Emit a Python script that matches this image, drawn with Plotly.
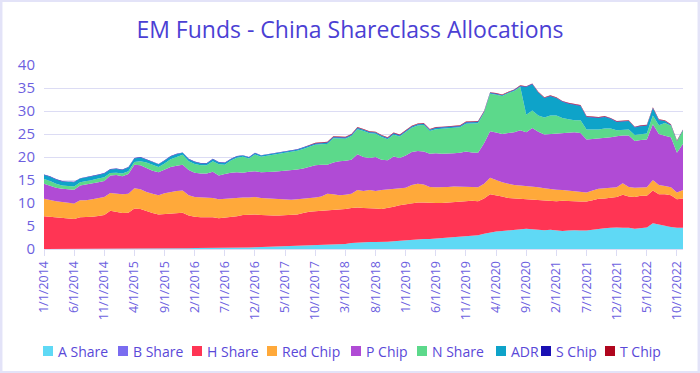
import plotly.graph_objects as go

# Monthly categories 1/1/2014 .. 11/1/2022
months = [f"{m}/1/{y}" for y in range(2014, 2023) for m in range(1, 13)][:107]

tick_labels = ["1/1/2014", "6/1/2014", "11/1/2014", "4/1/2015", "9/1/2015", "2/1/2016",
               "7/1/2016", "12/1/2016", "5/1/2017", "10/1/2017", "3/1/2018", "8/1/2018",
               "1/1/2019", "6/1/2019", "11/1/2019", "4/1/2020", "9/1/2020", "2/1/2021",
               "7/1/2021", "12/1/2021", "5/1/2022", "10/1/2022"]

a_share = [0, 0, 0, 0, 0, 0, 0, 0, 0, 0,
           0, 0, 0, 0, 0, 0, 0, 0, 0, 0,
           0.1, 0.1, 0.1, 0.15, 0.15, 0.2, 0.2, 0.2, 0.25, 0.25,
           0.3, 0.3, 0.3, 0.35, 0.35, 0.4, 0.45, 0.5, 0.5, 0.55,
           0.6, 0.6, 0.65, 0.7, 0.7, 0.75, 0.8, 0.85, 0.9, 1.0,
           1.1, 1.3, 1.4, 1.4, 1.5, 1.5, 1.5, 1.6, 1.7, 1.8,
           2.0, 2.1, 2.1, 2.2, 2.2, 2.3, 2.4, 2.4, 2.5, 2.6,
           2.7, 2.9, 3.0, 3.3, 3.6, 3.8, 3.9, 4.0, 4.2, 4.3,
           4.4, 4.3, 4.2, 4.1, 4.2, 4.0, 3.9, 4.0, 4.1, 4.0,
           4.0, 4.2, 4.4, 4.5, 4.6, 4.7, 4.6, 4.6, 4.4, 4.5,
           4.7, 5.6, 5.3, 5.0, 4.8, 4.6, 4.6]

b_share = [0] * 107

h_share = [7.1, 7.0, 6.9, 6.8, 6.7, 6.5, 6.9, 6.9, 7.0, 7.2,
           7.4, 8.3, 8.0, 7.8, 7.9, 8.8, 8.7, 8.2, 7.8, 7.5,
           7.5, 7.7, 7.8, 7.75, 7.15, 6.8, 6.7, 6.7, 6.65, 6.45,
           6.5, 6.6, 6.8, 7.05, 7.15, 7.1, 6.95, 6.8, 6.8, 6.75,
           6.8, 6.9, 6.85, 7.1, 7.4, 7.45, 7.5, 7.55, 7.6, 7.5,
           7.6, 7.6, 7.6, 7.5, 7.4, 7.3, 7.2, 7.3, 7.5, 7.7,
           7.7, 7.8, 8.0, 7.9, 7.8, 7.7, 7.6, 7.7, 7.7, 7.6,
           7.7, 7.6, 7.4, 7.7, 8.3, 7.9, 7.5, 7.1, 6.8, 6.6,
           6.4, 6.5, 6.4, 6.4, 6.3, 6.4, 6.6, 6.5, 6.3, 6.3,
           6.3, 6.4, 6.5, 6.5, 6.6, 6.6, 7.2, 6.8, 6.9, 7.1,
           6.9, 7.1, 6.6, 6.9, 6.9, 6.2, 6.4]

red_chip = [3.8, 3.6, 3.5, 3.4, 3.4, 3.4, 3.7, 3.7, 3.8, 3.8,
            3.9, 3.9, 4.1, 4.1, 4.1, 4.4, 4.3, 4.2, 4.2, 4.2,
            4.5, 4.6, 4.7, 4.8, 4.4, 4.3, 4.3, 4.2, 4.2, 4.1,
            4.1, 4.2, 4.1, 3.8, 3.7, 3.8, 3.7, 3.7, 3.6, 3.6,
            3.4, 3.2, 3.3, 3.1, 2.9, 3.0, 3.1, 3.6, 3.4, 3.2,
            3.1, 3.1, 3.8, 3.7, 3.9, 3.8, 4.1, 4.0, 3.8, 3.6,
            3.6, 4.0, 4.1, 3.9, 3.5, 3.4, 3.4, 3.4, 3.4, 3.4,
            3.2, 3.0, 3.0, 3.2, 3.6, 3.3, 3.1, 3.1, 2.9, 2.9,
            2.9, 2.8, 2.8, 2.7, 2.5, 2.5, 2.3, 2.2, 2.2, 2.1,
            2.0, 2.1, 2.2, 2.2, 2.1, 2.1, 2.5, 2.1, 2.0, 1.8,
            1.8, 2.3, 2.0, 1.8, 1.7, 1.5, 1.8]

p_chip = [3.3, 3.2, 2.9, 2.9, 2.9, 3.0, 3.2, 3.4, 3.4, 3.5,
          3.5, 3.8, 4.0, 3.9, 4.3, 5.1, 5.2, 5.2, 5.0, 5.0,
          5.2, 5.4, 5.5, 5.6, 5.5, 5.3, 5.2, 5.3, 5.7, 5.2,
          5.4, 5.5, 5.5, 5.4, 5.6, 5.6, 5.6, 5.7, 5.9, 6.0,
          6.2, 6.5, 6.5, 6.6, 6.8, 7.0, 6.9, 6.3, 6.9, 7.4,
          7.4, 7.4, 7.8, 7.4, 7.0, 7.4, 6.6, 6.4, 7.1, 6.7,
          7.0, 7.2, 7.1, 7.2, 7.2, 7.4, 7.3, 7.2, 7.2, 7.3,
          7.6, 7.5, 7.5, 8.8, 10.1, 10.3, 10.5, 11.0, 11.5, 12.0,
          11.7, 12.7, 12.1, 11.7, 12.0, 12.1, 12.4, 12.6, 12.8, 12.8,
          11.5, 11.2, 10.9, 10.9, 11.0, 11.1, 10.4, 11.2, 10.2, 10.3,
          10.4, 12.1, 11.1, 10.9, 10.9, 8.6, 10.1]

n_share = [1.0, 1.0, 0.9, 0.7, 0.7, 0.7, 0.7, 0.7, 0.8, 0.8,
           0.8, 0.5, 0.5, 0.6, 0.6, 0.6, 0.9, 1.2, 1.3, 1.1,
           1.3, 1.7, 1.9, 2.2, 1.9, 1.9, 1.8, 1.8, 2.3, 2.4,
           2.0, 2.65, 3.15, 3.45, 2.85, 3.65, 3.35, 3.55, 3.65, 3.75,
           3.85, 3.85, 4.05, 4.25, 4.45, 4.45, 4.45, 4.55, 5.25, 4.95,
           4.75, 5.15, 5.45, 5.65, 5.35, 5.05, 4.95, 4.55, 4.75, 4.65,
           5.05, 5.25, 5.55, 5.75, 4.95, 5.25, 5.45, 5.55, 5.55, 5.55,
           6.05, 6.35, 6.45, 6.65, 8.15, 8.25, 8.25, 8.65, 8.95, 9.45,
           3.8, 3.8, 3.5, 3.7, 4.0, 4.0, 3.3, 2.9, 2.6, 2.8,
           2.2, 2.1, 2.0, 2.1, 1.9, 1.3, 1.2, 1.3, 1.3, 1.3,
           1.3, 1.9, 1.9, 2.8, 2.5, 2.45, 2.85]

adr = [0.9, 0.9, 0.9, 0.9, 0.9, 0.9, 0.8, 0.8, 0.8, 0.8,
       0.8, 0.8, 0.8, 0.8, 0.8, 0.8, 0.8, 0.6, 0.6, 0.6,
       0.6, 0.6, 0.6, 0.4, 0.4, 0.4, 0.4, 0.4, 0.4, 0.4,
       0.4, 0.25, 0.25, 0.25, 0.25, 0.25, 0.25, 0.25, 0.25, 0.25,
       0.25, 0.25, 0.25, 0.25, 0.25, 0.25, 0.25, 0.25, 0.25, 0.25,
       0.25, 0.25, 0.25, 0.25, 0.25, 0.25, 0.25, 0.25, 0.25, 0.25,
       0.25, 0.25, 0.25, 0.25, 0.25, 0.25, 0.25, 0.25, 0.25, 0.25,
       0.25, 0.25, 0.25, 0.15, 0.15, 0.15, 0.15, 0.15, 0.15, 0.15,
       6.0, 5.7, 5.0, 4.2, 4.2, 3.8, 3.5, 3.4, 3.3, 3.1,
       2.7, 2.6, 2.5, 2.5, 2.1, 1.8, 1.8, 1.8, 1.6, 1.7,
       1.7, 1.6, 1.1, 0.4, 0.1, 0.05, 0.05]

s_chip = [0.1] * 107

t_chip = [0] * 45 + [0.1] * 62

series_names = ["A Share", "B Share", "H Share", "Red Chip", "P Chip",
                "N Share", "ADR", "S Chip", "T Chip"]
series_values = [a_share, b_share, h_share, red_chip, p_chip,
                 n_share, adr, s_chip, t_chip]
series_colors = ["#5fd9f5", "#7a6cf0", "#ff3554", "#ffa93a", "#b04bd5",
                 "#5cd98b", "#0ea3c9", "#1a10b3", "#b0061e"]

fig = go.Figure()
for name, vals, col in zip(series_names, series_values, series_colors):
    fig.add_trace(go.Scatter(
        x=months, y=vals, name=name, mode="lines",
        stackgroup="one", line=dict(width=0, color=col),
        fillcolor=col, showlegend=False,
    ))

W, H = 700, 373
L, R, T, B = 44, 17, 65, 124
pw, ph = W - L - R, H - T - B

TEXT = "#5a48d8"
TICK = "#6d5fe0"
GRID = "#dcdcf4"

fig.update_layout(
    width=W, height=H,
    margin=dict(l=L, r=R, t=T, b=B),
    paper_bgcolor="white", plot_bgcolor="white",
    font=dict(family="Open Sans", color=TICK),
    title=dict(text="EM Funds - China Shareclass Allocations",
               x=0.5, xanchor="center", y=1 - 30 / H, yanchor="middle",
               font=dict(family="Open Sans", size=23, color="#4b3fd4")),
    xaxis=dict(type="category", range=[0, 106],
               tickmode="array", tickvals=tick_labels, ticktext=tick_labels,
               tickangle=-90, tickfont=dict(size=12.5, color=TICK),
               showgrid=False, showline=True, linecolor=GRID, linewidth=1,
               ticks="outside", ticklen=6, tickcolor=GRID),
    yaxis=dict(range=[0, 40], tickvals=[0, 5, 10, 15, 20, 25, 30, 35, 40],
               showgrid=True, gridcolor=GRID, gridwidth=1.2,
               zeroline=False, showline=False, ticks="",
               tickfont=dict(size=15, color=TICK), ticklabelstandoff=8),
)

# Border around the whole figure
fig.add_shape(type="rect", xref="paper", yref="paper",
              x0=-L / pw + 0.0015, x1=1 + R / pw - 0.0015,
              y0=-B / ph + 0.003, y1=1 + T / ph - 0.003,
              line=dict(color="#e3e3f8", width=3), fillcolor="rgba(0,0,0,0)", layer="below")

# Custom legend (small squares + labels)
legend_x = [43, 118, 192, 267, 351, 417, 496, 541, 605]
legend_y = 351
for name, col, px in zip(series_names, series_colors, legend_x):
    fig.add_shape(type="rect", xref="paper", yref="paper",
                  x0=(px - L) / pw, x1=(px + 10 - L) / pw,
                  y0=(H - B - (legend_y + 5)) / ph, y1=(H - B - (legend_y - 5)) / ph,
                  line=dict(width=0), fillcolor=col)
    fig.add_annotation(xref="paper", yref="paper",
                       x=(px + 13 - L) / pw, y=(H - B - legend_y) / ph,
                       xanchor="left", yanchor="middle", showarrow=False,
                       text=name, font=dict(family="Open Sans", size=14, color=TEXT))

fig.write_html("out.html",
               config={"displayModeBar": False},
               post_script="document.body.style.margin='0px';document.body.style.overflow='hidden';")
